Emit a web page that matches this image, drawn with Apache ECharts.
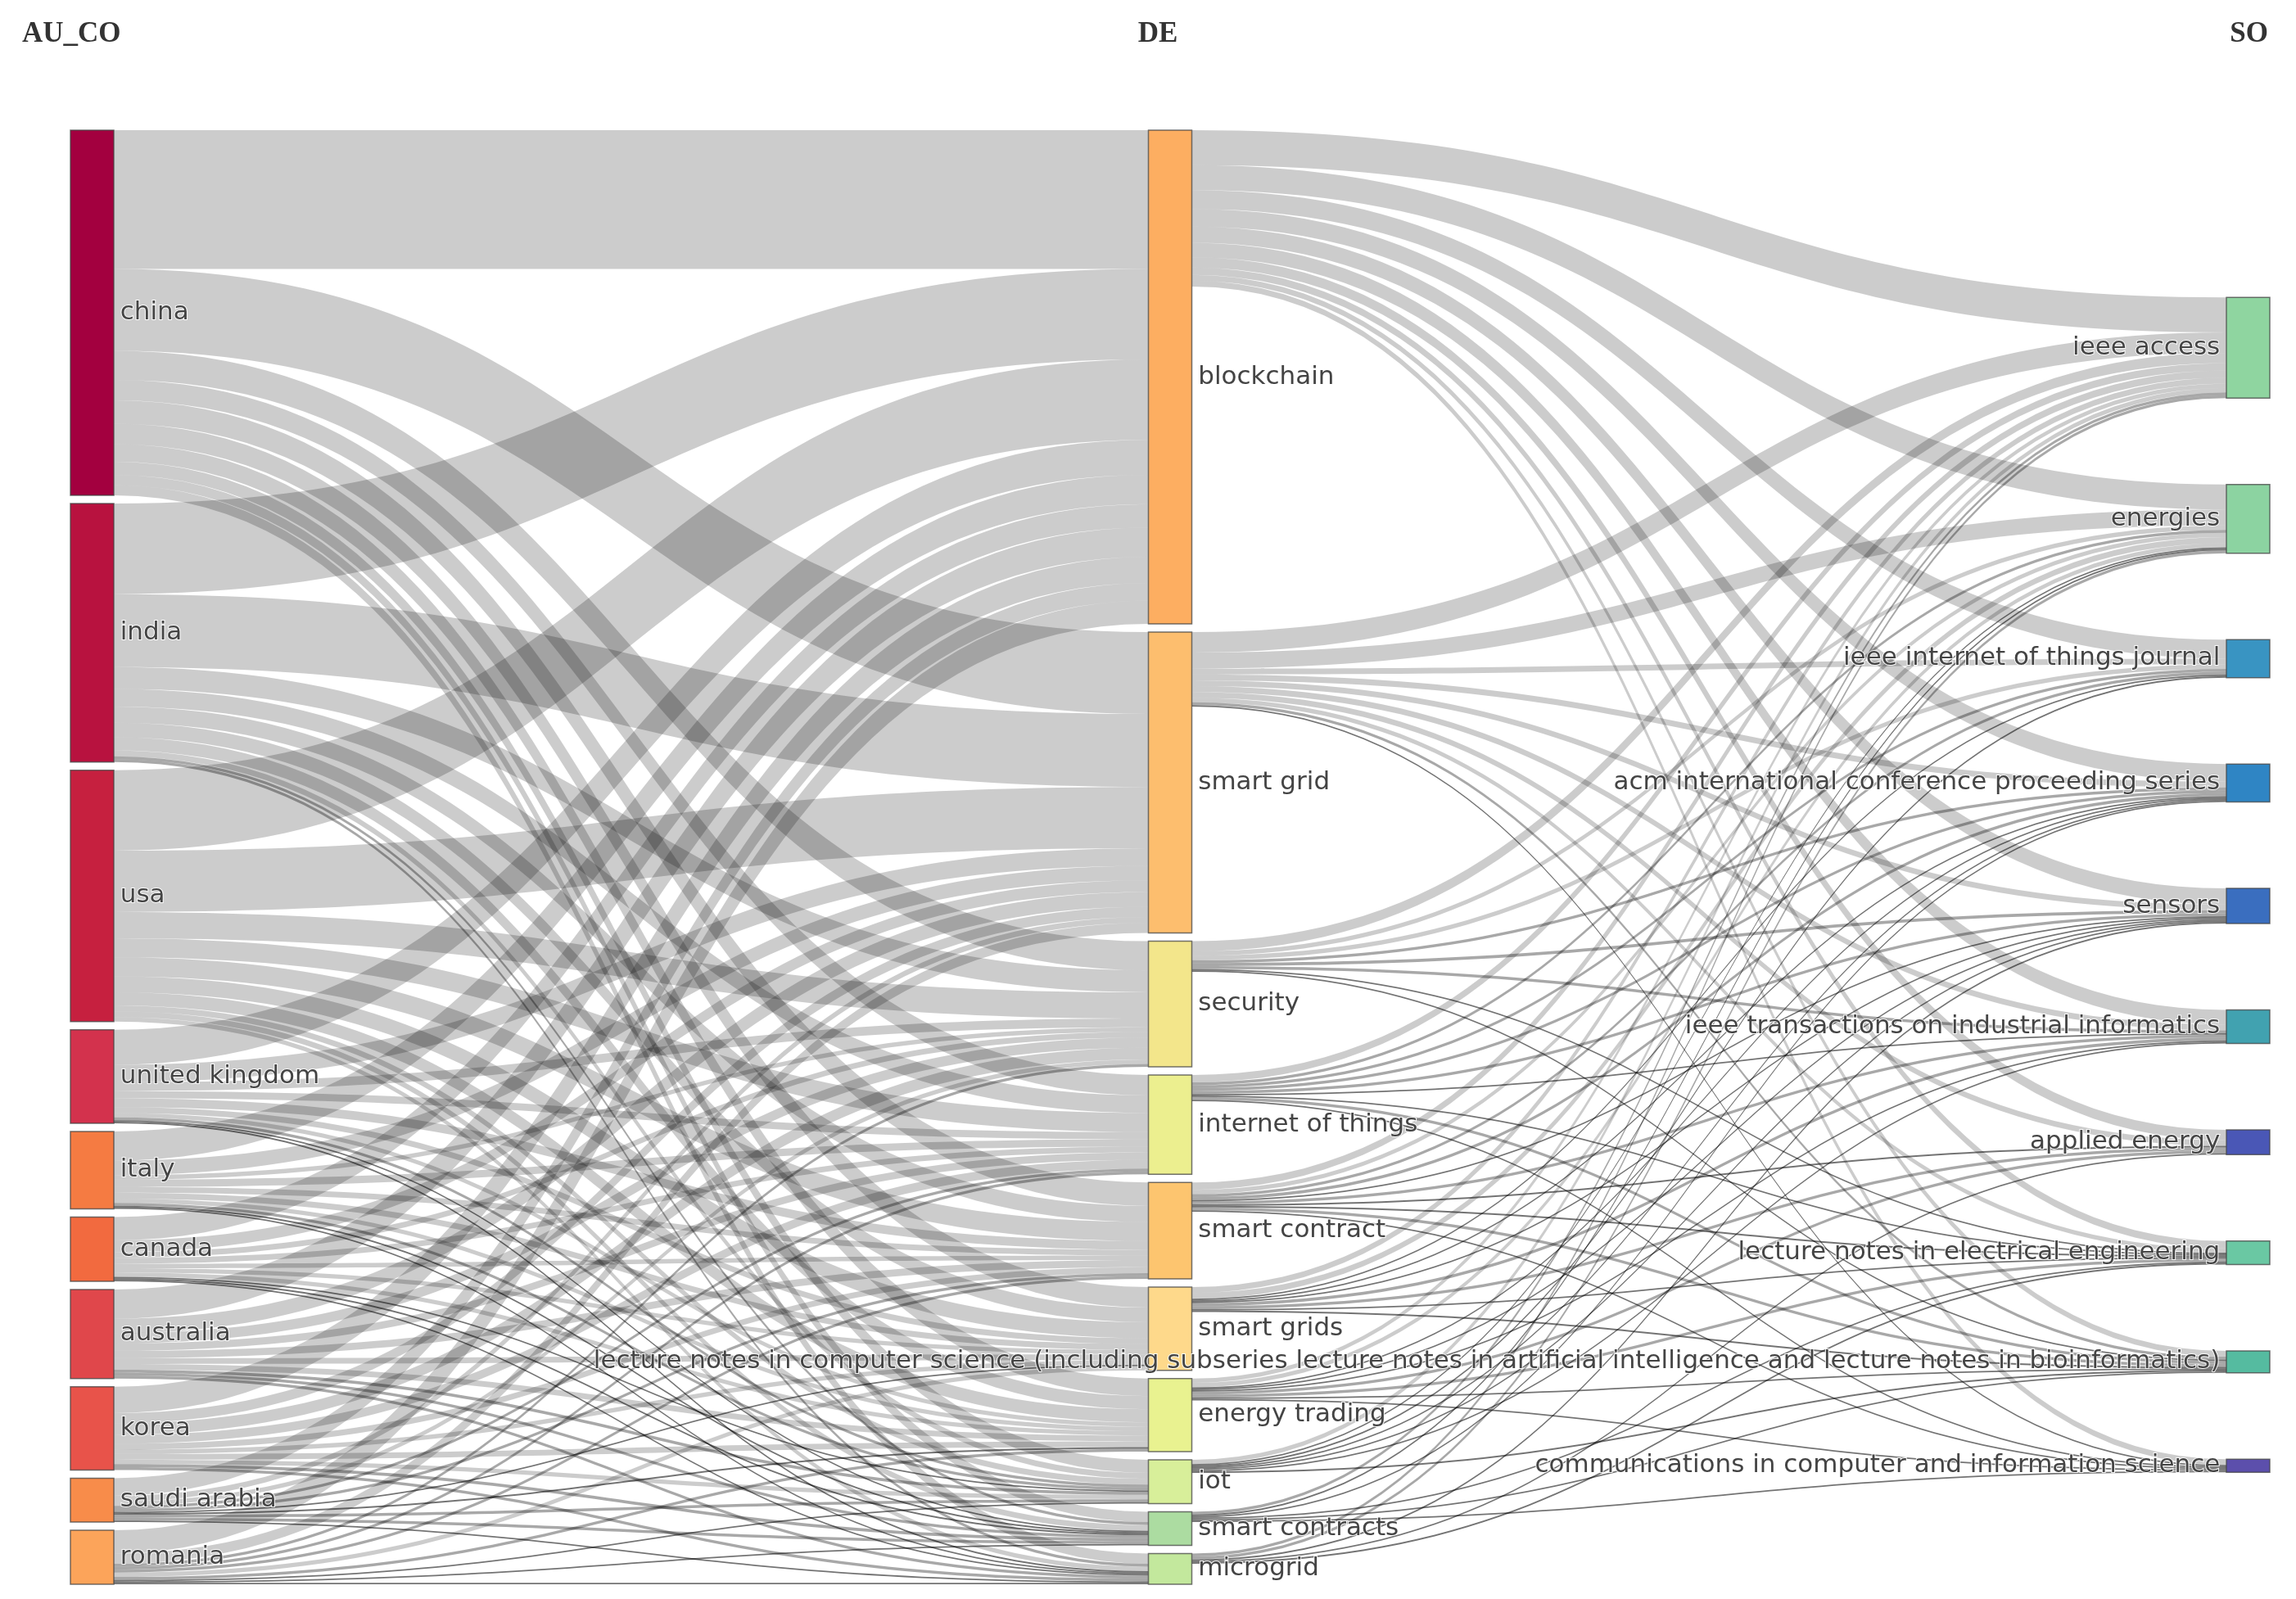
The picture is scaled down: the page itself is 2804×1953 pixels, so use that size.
<!DOCTYPE html>
<html><head><meta charset="utf-8">
<script src="https://cdn.jsdelivr.net/npm/echarts@6/dist/echarts.min.js"></script>
<style>html,body{margin:0;padding:0;background:#fff}#c{width:2804px;height:1953px}</style>
</head><body><div id="c"></div>
<script>
// ---------------- data ----------------
const fieldNames = ['AU_CO', 'DE', 'SO'];
const countries = ['china','india','usa','united kingdom','italy','canada','australia','korea','saudi arabia','romania'];
const keywords = ['blockchain','smart grid','security','internet of things','smart contract','smart grids','energy trading','iot','smart contracts','microgrid'];
const sources = ['ieee access','energies','ieee internet of things journal','acm international conference proceeding series','sensors','ieee transactions on industrial informatics','applied energy','lecture notes in electrical engineering','lecture notes in computer science (including subseries lecture notes in artificial intelligence and lecture notes in bioinformatics)','communications in computer and information science'];

// country -> keyword (rows: countries, columns: keywords)
const countryKeyword = [
  [95,56,20,14,16,14,12,9,7,7],
  [62,50,15,12,11,10,9,4,2,2],
  [55,42,18,13,13,11,9,4,4,3],
  [24,12,6,5,6,4,3,2,1,1],
  [20,10,3,5,4,4,3,2,1,1],
  [16,8,4,4,3,3,3,1,1,1],
  [20,10,7,5,5,4,4,2,2,2],
  [18,7,8,6,4,3,4,3,2,2],
  [12,4,3,2,2,1,1,2,2,1],
  [16,7,2,2,2,3,2,1,1,1]
];
// keyword -> source (rows: keywords, columns: sources)
const keywordSource = [
  [24,17,13,12,11,10,7,5,4,4],
  [14,11,4,4,4,4,4,3,2,1],
  [7,3,3,2,2,2,0,1,1,0],
  [5,2,2,2,2,1,0,1,2,1],
  [5,3,2,2,1,2,1,1,2,1],
  [4,4,1,1,1,2,2,1,1,0],
  [3,3,0,1,1,1,2,2,1,1],
  [3,1,1,1,1,1,0,0,1,0],
  [2,1,0,1,0,0,0,1,1,1],
  [2,2,0,0,1,0,1,1,0,0]
];

// ---------------- styles ----------------
const countryColors = ['#a3003f','#b8123f','#c6203f','#d3324d','#f57b42','#f26a3f','#e0474b','#e8534a','#f88c4a','#fca45a'];
const keywordColors = ['#fdae61','#fdbe6e','#f3e68b','#ecef8f','#fdc56f','#fed98b','#e9f290','#d8ef9a','#acdca1','#c3e89d'];
const sourceColors = ['#8fd5a0','#8cd3a1','#3994c2','#2f85c4','#3a6ebf','#41a2b0','#4a57b6','#6ac8a3','#55bba0','#5c4fac'];

const W = 2804, HGT = 1953;
const TOP = 159, BOTTOM = 18, LEFT = 86, RIGHT = 32, NODE_GAP = 10, NODE_W = 53;
const LAYOUT_H = HGT - TOP - BOTTOM;
const SO_SPAN = [0.115, 0.923]; // vertical band over which the last column is spread evenly

// ---------------- derived ----------------
const sum = a => a.reduce((s, v) => s + v, 0);
const countryVals = countryKeyword.map(sum);
const kwIn = keywords.map((_, j) => sum(countryKeyword.map(r => r[j])));
const kwOut = keywordSource.map(sum);
const kwVals = keywords.map((_, j) => Math.max(kwIn[j], kwOut[j]));
const srcVals = sources.map((_, j) => sum(keywordSource.map(r => r[j])));
const ky = Math.min(
  (LAYOUT_H - (countries.length - 1) * NODE_GAP) / sum(countryVals),
  (LAYOUT_H - (keywords.length - 1) * NODE_GAP) / sum(kwVals),
  (LAYOUT_H - (sources.length - 1) * NODE_GAP) / sum(srcVals)
);
// spread last column evenly over its band
const spanTop = SO_SPAN[0] * LAYOUT_H, spanBot = SO_SPAN[1] * LAYOUT_H;
const srcH = srcVals.map(v => v * ky);
const srcGap = (spanBot - spanTop - sum(srcH)) / (sources.length - 1);
const srcLocalY = [];
{ let y = spanTop; srcH.forEach(h => { srcLocalY.push(y / LAYOUT_H); y += h + srcGap; }); }

const nodes = [];
countries.forEach((n, i) => nodes.push({ name: n, depth: 0, itemStyle: { color: countryColors[i] } }));
keywords.forEach((n, i) => nodes.push({ name: n, depth: 1, itemStyle: { color: keywordColors[i] } }));
sources.forEach((n, i) => nodes.push({ name: n, depth: 2, localY: srcLocalY[i], itemStyle: { color: sourceColors[i] },
  label: { position: 'left' } }));

function linkStyle(v) {
  return { color: '#000', opacity: v <= 1 ? 0.55 : (v <= 2 ? 0.34 : 0.2), curveness: 0.5 };
}
const links = [];
countries.forEach((c, i) => keywords.forEach((k, j) => {
  const v = countryKeyword[i][j];
  if (v > 0) links.push({ source: c, target: k, value: v, lineStyle: linkStyle(v) });
}));
keywords.forEach((k, i) => sources.forEach((s, j) => {
  const v = keywordSource[i][j];
  if (v > 0) links.push({ source: k, target: s, value: v, lineStyle: linkStyle(v) });
}));

const chart = echarts.init(document.getElementById('c'), null, { renderer: 'canvas' });
const headerStyle = { fontFamily: '"Liberation Serif", serif', fontWeight: 'bold', fontSize: 35, fill: '#333', verticalAlign: 'middle' };
chart.setOption({
  animation: false,
  backgroundColor: '#fff',
  graphic: [
    { type: 'text', x: 27, y: 42, style: Object.assign({ text: fieldNames[0], align: 'left' }, headerStyle) },
    { type: 'text', x: 1414, y: 42, style: Object.assign({ text: fieldNames[1], align: 'center' }, headerStyle) },
    { type: 'text', x: 2770, y: 42, style: Object.assign({ text: fieldNames[2], align: 'right' }, headerStyle) }
  ],
  series: [{
    type: 'sankey',
    left: LEFT, right: RIGHT, top: TOP, bottom: BOTTOM,
    nodeWidth: NODE_W,
    nodeGap: NODE_GAP,
    layoutIterations: 0,
    nodeAlign: 'justify',
    draggable: false,
    emphasis: { disabled: true },
    data: nodes,
    links: links,
    itemStyle: { borderColor: 'rgba(68,68,68,0.75)', borderWidth: 1.5 },
    lineStyle: { color: '#000', opacity: 0.2, curveness: 0.5 },
    label: {
      show: true, position: 'right', distance: 7,
      fontFamily: '"DejaVu Sans", Verdana, sans-serif', fontSize: 31, color: '#444',
      textBorderColor: 'rgba(255,255,255,0.9)', textBorderWidth: 2
    }
  }]
});
</script>
</body></html>
